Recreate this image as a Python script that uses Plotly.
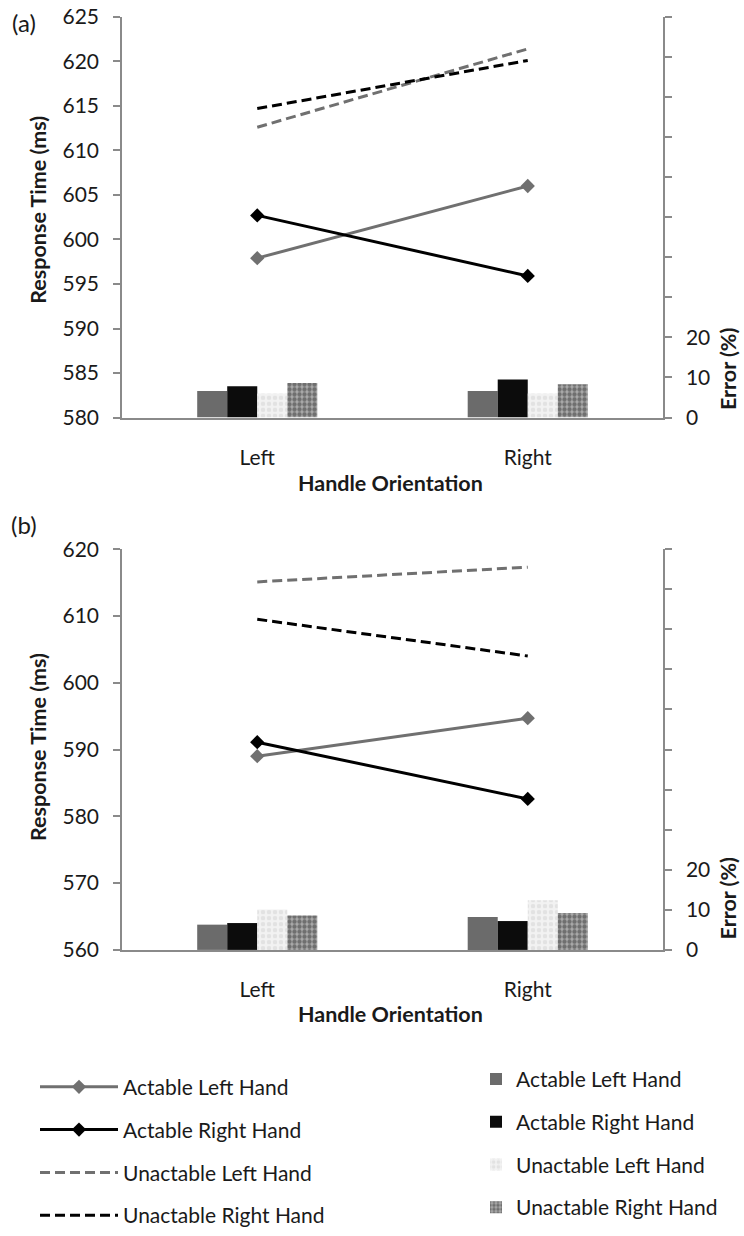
import plotly.graph_objects as go

# ---------------- data ----------------
categories = ["Left", "Right"]
series_names = ["Actable Left Hand", "Actable Right Hand",
                "Unactable Left Hand", "Unactable Right Hand"]

# Panel (a): response time (ms)
rt_a_actable_left = [597.9, 606.0]
rt_a_actable_right = [602.7, 595.9]
rt_a_unactable_left = [612.6, 621.4]
rt_a_unactable_right = [614.7, 620.1]
# Panel (a): error (%)
err_a_actable_left = [6.6, 6.6]
err_a_actable_right = [7.8, 9.5]
err_a_unactable_left = [6.0, 6.0]
err_a_unactable_right = [8.6, 8.3]

# Panel (b): response time (ms)
rt_b_actable_left = [589.0, 594.7]
rt_b_actable_right = [591.1, 582.6]
rt_b_unactable_left = [615.1, 617.3]
rt_b_unactable_right = [609.5, 604.0]
# Panel (b): error (%)
err_b_actable_left = [6.3, 8.2]
err_b_actable_right = [6.7, 7.2]
err_b_unactable_left = [10.1, 12.4]
err_b_unactable_right = [8.6, 9.2]

rt_a_ticks = [580, 585, 590, 595, 600, 605, 610, 615, 620, 625]
rt_b_ticks = [560, 570, 580, 590, 600, 610, 620]
err_tickvals = [0, 10, 20, 30, 40, 50, 60, 70, 80, 90, 100]
err_ticktext = ["0", "10", "20", "", "", "", "", "", "", "", ""]

# ---------------- styles ----------------
W, H = 744, 1236
FONT = "Lato"
GRAY_LINE = "#707070"
BLACK = "#000000"
AXIS = "#8a8a8a"
TXT = "#1a1a1a"

line_styles = [
    dict(color=GRAY_LINE, width=3, dash="solid"),
    dict(color=BLACK, width=3, dash="solid"),
    dict(color=GRAY_LINE, width=3, dash="10px,5px"),
    dict(color=BLACK, width=3, dash="10px,5px"),
]
line_markers = [
    dict(symbol="diamond", size=11, color=GRAY_LINE),
    dict(symbol="diamond", size=11, color=BLACK),
    None,
    None,
]
bar_markers = [
    dict(color="#6b6b6b", line=dict(width=0)),
    dict(color="#0c0c0c", line=dict(width=0)),
    dict(color="#f0f0f0", line=dict(width=0),
         pattern=dict(shape=".", bgcolor="#f2f2f2", fgcolor="#d2d2d2", size=6, solidity=0.45)),
    dict(color="#a0a0a0", line=dict(width=0),
         pattern=dict(shape=".", bgcolor="#aaaaaa", fgcolor="#333333", size=5, solidity=0.6)),
]

def px_x(p):
    return p / W

def px_y(p):
    return 1 - p / H

x_dom = [px_x(122), px_x(663)]
a_dom = [px_y(422), px_y(17)]
b_dom = [px_y(960), px_y(555)]

fig = go.Figure()

panels = [
    ("x", "y", "y2",
     [rt_a_actable_left, rt_a_actable_right, rt_a_unactable_left, rt_a_unactable_right],
     [err_a_actable_left, err_a_actable_right, err_a_unactable_left, err_a_unactable_right], True),
    ("x2", "y3", "y4",
     [rt_b_actable_left, rt_b_actable_right, rt_b_unactable_left, rt_b_unactable_right],
     [err_b_actable_left, err_b_actable_right, err_b_unactable_left, err_b_unactable_right], False),
]

for xa, ya, ya2, rts, errs, show in panels:
    for i, name in enumerate(series_names):
        fig.add_trace(go.Bar(
            x=categories, y=errs[i], name=name, xaxis=xa, yaxis=ya2,
            marker=bar_markers[i], showlegend=show, legend="legend2",
            legendgroup="bar" + str(i),
        ))
    for i, name in enumerate(series_names):
        kw = dict(mode="lines+markers", marker=line_markers[i]) if line_markers[i] else dict(mode="lines")
        fig.add_trace(go.Scatter(
            x=categories, y=rts[i], name=name, xaxis=xa, yaxis=ya,
            line=line_styles[i], showlegend=show, legend="legend",
            legendgroup="line" + str(i), **kw
        ))

tickfont = dict(family=FONT, size=21, color=TXT)

def xaxis(anchor):
    return dict(domain=x_dom, anchor=anchor, type="category", range=[-0.5, 1.5],
                showline=True, linecolor=AXIS, linewidth=1.5, ticks="",
                tickfont=tickfont, showgrid=False, zeroline=False,
                ticklabelstandoff=20, automargin=False)

def yleft(dom, anchor, rng, ticks):
    return dict(domain=dom, anchor=anchor, range=rng, tickvals=ticks,
                showline=True, linecolor=AXIS, linewidth=1.5, ticks="outside",
                ticklen=7, tickcolor=AXIS, tickwidth=1.5, tickfont=tickfont,
                showgrid=False, zeroline=False, automargin=False,
                ticklabelstandoff=10)

def yright(over, anchor):
    return dict(overlaying=over, anchor=anchor, side="right", range=[0, 100],
                tickvals=err_tickvals, ticktext=err_ticktext,
                showline=True, linecolor=AXIS, linewidth=1.5, ticks="outside",
                ticklen=7, tickcolor=AXIS, tickwidth=1.5, tickfont=tickfont,
                showgrid=False, zeroline=False, automargin=False,
                ticklabelstandoff=10)

annos = []
def anno(text, x, y, size=20, bold=False, angle=0):
    annos.append(dict(text=("<b>%s</b>" % text) if bold else text,
                      x=px_x(x), y=px_y(y), xref="paper", yref="paper",
                      showarrow=False, textangle=angle, xanchor="center", yanchor="middle",
                      font=dict(family=FONT, size=size, color=TXT)))

TS = 21.5
anno("(a)", 24, 23, size=24)
anno("(b)", 24, 530, size=24)
anno("Response Time (ms)", 38, 212, size=TS, bold=True, angle=-90)
anno("Response Time (ms)", 38, 755, size=TS, bold=True, angle=-90)
anno("Error (%)", 728, 373, size=TS, bold=True, angle=-90)
anno("Error (%)", 728, 908, size=TS, bold=True, angle=-90)
anno("Handle Orientation", 390, 488, size=TS, bold=True)
anno("Handle Orientation", 390, 1025, size=TS, bold=True)

legfont = dict(family=FONT, size=21, color=TXT)

fig.update_layout(
    width=W, height=H,
    margin=dict(l=0, r=0, t=0, b=0),
    paper_bgcolor="white", plot_bgcolor="rgba(0,0,0,0)",
    barmode="group", bargap=0.556, bargroupgap=0,
    xaxis=xaxis("y"),
    yaxis=yleft(a_dom, "x", [580, 625], rt_a_ticks),
    yaxis2=yright("y", "x"),
    xaxis2=xaxis("y3"),
    yaxis3=yleft(b_dom, "x2", [560, 620], rt_b_ticks),
    yaxis4=yright("y3", "x2"),
    annotations=annos,
    legend=dict(x=px_x(35), y=px_y(1078), xanchor="left", yanchor="top",
                font=legfont, itemwidth=78, tracegroupgap=12.5,
                bgcolor="rgba(0,0,0,0)", traceorder="grouped"),
    legend2=dict(x=px_x(476), y=px_y(1070), xanchor="left", yanchor="top",
                 font=legfont, itemwidth=30, tracegroupgap=12.5,
                 bgcolor="rgba(0,0,0,0)", traceorder="grouped"),
    showlegend=True,
)

fig.write_html("out.html", include_plotlyjs=True,
               config={"displayModeBar": False},
               post_script="document.body.style.margin='0';")
